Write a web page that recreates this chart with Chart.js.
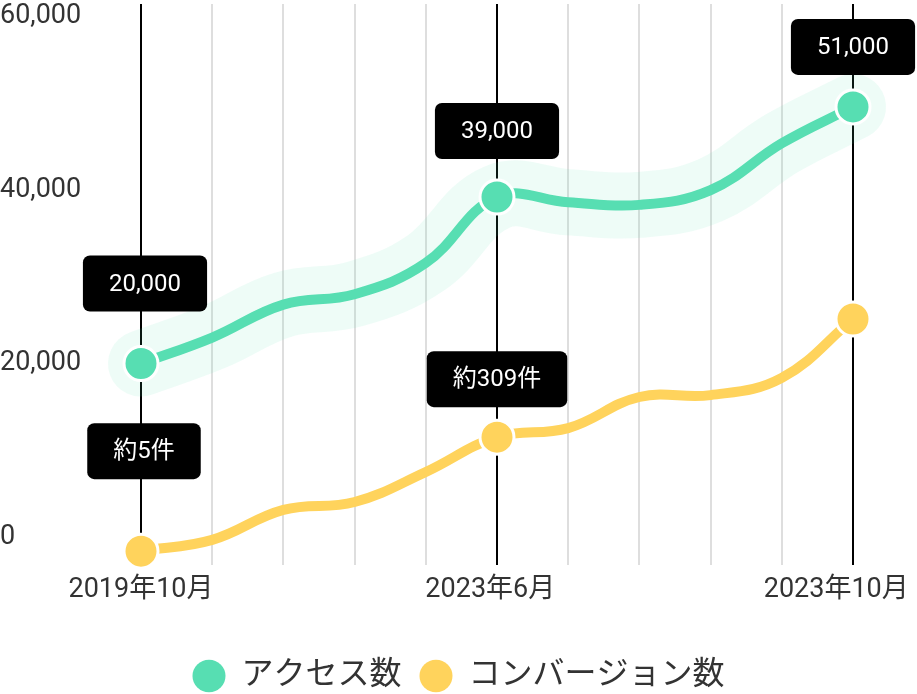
<!DOCTYPE html>
<html lang="ja">
<head>
<meta charset="utf-8">
<title>アクセス数とコンバージョン数</title>
<script src="https://cdn.jsdelivr.net/npm/chart.js@4.4.1/dist/chart.umd.min.js"></script>
<style>
  html, body { margin: 0; padding: 0; background: #fff; }
  #wrap { width: 917px; height: 694px; position: relative; }
</style>
</head>
<body>
<div id="wrap"><canvas id="chart"></canvas></div>
<script>
// données
const months = ['2019年10月', '', '', '', '', '2023年6月', '', '', '', '', '2023年10月'];
const accessCounts = [20000, 23000, 26800, 28000, 31600, 39200, 38600, 38300, 40000, 45400, 49600];
const conversions = [5, 35, 115, 136, 216, 309, 333, 416, 421, 467, 624];
const yTicks = [0, 20000, 40000, 60000];

// bulles noires
const calloutTexts = ['20,000', '39,000', '51,000', '約5件', '約309件'];
const calloutSeries = [0, 0, 0, 1, 1];
const calloutIndex = [0, 5, 10, 0, 5];

// réglages visuels
const calloutDy = [-80, -66, -60, -100, -58];
const calloutDx = [4, 0, 0, 3, 0];
const tickNudge = [0, 0, 0, 0, 0, 2, 0, 0, 0, 0, 5];

const GREEN = '#57deb2';
const YELLOW = '#ffd35c';
const FONT = "Roboto, 'Noto Sans CJK JP', sans-serif";

Chart.defaults.font.family = FONT;
Chart.defaults.color = '#333';

const keyPoint = c => (c.dataIndex % 5 === 0 ? 17 : 0);
const noPad = s => { s.paddingTop = 0; s.paddingBottom = 0; };

const callouts = {
    id: 'callouts',
    afterDatasetsDraw(chart) {
        const ctx = chart.ctx;
        ctx.save();
        ctx.font = '24px ' + FONT;
        ctx.textAlign = 'center';
        ctx.textBaseline = 'middle';
        calloutTexts.forEach((t, i) => {
            const pt = chart.getDatasetMeta(calloutSeries[i]).data[calloutIndex[i]];
            const w = ctx.measureText(t).width + 52, h = 56;
            const cx = pt.x + calloutDx[i], cy = pt.y + calloutDy[i];
            ctx.fillStyle = '#000';
            ctx.beginPath();
            ctx.roundRect(cx - w / 2, cy - h / 2, w, h, 7);
            ctx.fill();
            ctx.fillStyle = '#fff';
            ctx.fillText(t, cx, cy + 1);
        });
        ctx.restore();
    }
};

// descend un peu la légende
const legendNudge = {
    id: 'legendNudge',
    afterLayout(chart) {
        chart.legend.top += 8;
        chart.legend.bottom += 8;
    }
};

new Chart(document.getElementById('chart').getContext('2d'), {
    type: 'line',
    data: {
        labels: months,
        datasets: [
            {
                label: 'アクセス数',
                data: accessCounts,
                yAxisID: 'y',
                borderColor: GREEN,
                backgroundColor: GREEN,
                borderWidth: 10,
                tension: 0.4,
                pointRadius: keyPoint,
                pointHoverRadius: keyPoint,
                pointBackgroundColor: GREEN,
                pointBorderColor: '#fff',
                pointBorderWidth: 3,
                order: 1,
                clip: false
            },
            {
                label: 'コンバージョン数',
                data: conversions,
                yAxisID: 'y2',
                borderColor: YELLOW,
                backgroundColor: YELLOW,
                borderWidth: 10,
                tension: 0.4,
                pointRadius: keyPoint,
                pointHoverRadius: keyPoint,
                pointBackgroundColor: YELLOW,
                pointBorderColor: '#fff',
                pointBorderWidth: 3,
                order: 2,
                clip: false
            },
            {
                // halo vert clair
                label: '',
                data: accessCounts,
                yAxisID: 'y',
                borderColor: 'rgba(87,222,178,0.1)',
                borderWidth: 66,
                borderCapStyle: 'round',
                borderJoinStyle: 'round',
                tension: 0.4,
                pointRadius: 0,
                pointHoverRadius: 0,
                order: 3,
                clip: false
            }
        ]
    },
    options: {
        responsive: true,
        maintainAspectRatio: false,
        animation: false,
        events: [],
        layout: { autoPadding: false, padding: { top: 4, left: 0, right: 0, bottom: 0 } },
        scales: {
            x: {
                grid: {
                    color: c => (c.index % 5 === 0 ? '#000' : '#dedede'),
                    lineWidth: 2,
                    drawTicks: false
                },
                border: { display: false },
                ticks: {
                    autoSkip: false,
                    maxRotation: 0,
                    padding: 9,
                    color: '#333',
                    font: { size: 27 },
                    callback: (v, i) => months[i] + ' '.repeat(tickNudge[i])
                },
                afterFit: s => { s.paddingRight = 64; s.height = 69; }
            },
            y: {
                min: -3230,
                max: 61465,
                afterBuildTicks: s => { s.ticks = yTicks.map(v => ({ value: v })); },
                grid: { display: false },
                border: { display: false },
                ticks: {
                    crossAlign: 'far',
                    color: '#333',
                    font: { size: 27 },
                    callback: v => v.toLocaleString('en-US')
                },
                afterFit: s => { s.width = 141; noPad(s); }
            },
            y2: {
                display: false,
                min: -32,
                max: 1464,
                ticks: { display: false },
                afterFit: noPad
            }
        },
        plugins: {
            tooltip: { enabled: false },
            legend: {
                position: 'bottom',
                labels: {
                    usePointStyle: true,
                    pointStyle: 'circle',
                    boxHeight: 23,
                    pointStyleWidth: 33,
                    padding: 18,
                    color: '#333',
                    font: { size: 32 },
                    filter: item => item.text !== '',
                    generateLabels: chart => Chart.defaults.plugins.legend.labels.generateLabels(chart)
                        .map(l => Object.assign(l, { lineWidth: 0 }))
                }
            }
        }
    },
    plugins: [callouts, legendNudge]
});
</script>
</body>
</html>
